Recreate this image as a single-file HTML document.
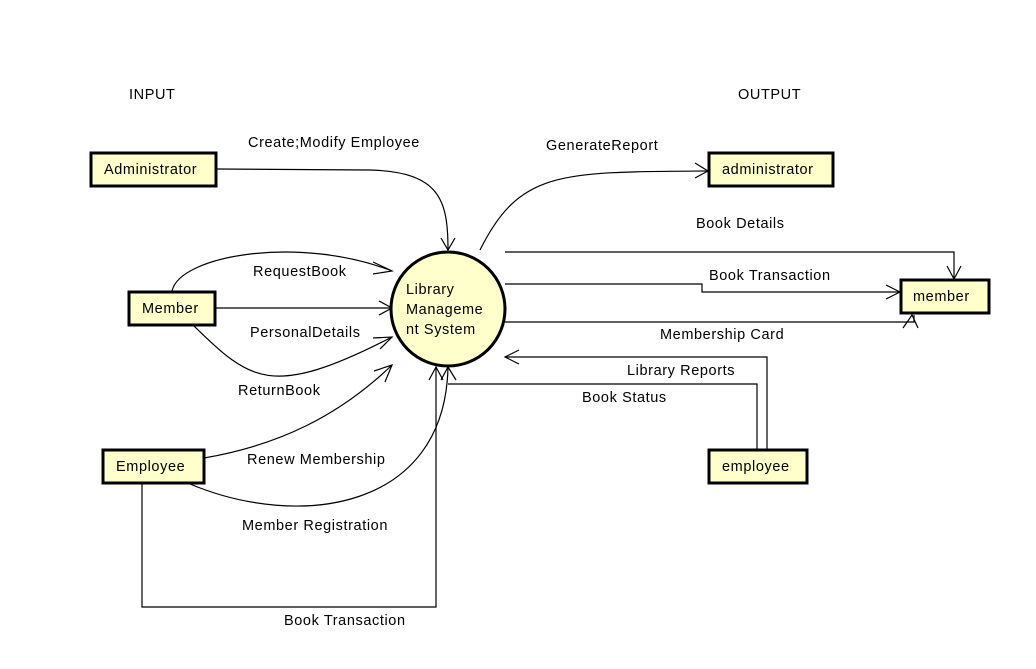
<!DOCTYPE html>
<html><head><meta charset="utf-8"><style>
html,body{margin:0;padding:0;background:#fff;}
svg{display:block;}
text{font-family:"Liberation Sans",sans-serif;font-size:14.5px;letter-spacing:0.6px;fill:#000;}
</style></head><body>
<svg width="1036" height="669" viewBox="0 0 1036 669" xmlns="http://www.w3.org/2000/svg">
<g fill="none" stroke="#000" stroke-width="1.2">
<path d="M217,169 L370,170 C440,172 448,200 448,250"/>
<path d="M441,238 L448,250 L455,238"/>
<path d="M172,291 C180,255 300,235 392,271"/>
<path d="M373,262 L392,271 L373,274"/>
<path d="M216,308 L392,308"/>
<path d="M379,301 L392,308 L379,315"/>
<path d="M194,326 C250,380 270,400 392,337"/>
<path d="M373,338 L392,337 L380,349"/>
<path d="M204,458 C280,445 340,415 392,365"/>
<path d="M374,371 L392,365 L385,382"/>
<path d="M190,484 C300,530 445,510 448,367"/>
<path d="M441,380 L448,367 L456,380"/>
<path d="M142,484 L142,607 L436,607 L436,367"/>
<path d="M429,380 L436,367 L443,380"/>
<path d="M480,250 C520,170 560,172 708,171"/>
<path d="M695,163 L708,171 L695,178"/>
<path d="M505,252 L954,252 L954,279"/>
<path d="M947,266 L954,279 L961,266"/>
<path d="M505,284 L702,284 L702,292 L900,292"/>
<path d="M886,285 L900,292 L886,299"/>
<path d="M505,322 L914,322 L914,315"/>
<path d="M903,328 L912,315 L918,328"/>
<path d="M767,449 L767,357 L505,357"/>
<path d="M519,350 L505,357 L519,364"/>
<path d="M757,449 L757,384 L448,384"/>
</g>
<circle cx="448" cy="309" r="57" fill="#ffffcc" stroke="#000" stroke-width="3"/>
<text x="406" y="294">Library</text>
<text x="406" y="314">Manageme</text>
<text x="406" y="334">nt System</text>
<g fill="#ffffcc" stroke="#000" stroke-width="3">
<rect x="91" y="153" width="125" height="33"/>
<rect x="129" y="292" width="86" height="33"/>
<rect x="103" y="450" width="101" height="33"/>
<rect x="709" y="153" width="124" height="33"/>
<rect x="901" y="280" width="88" height="33"/>
<rect x="709" y="450" width="98" height="33"/>
</g>
<text x="104" y="174">Administrator</text>
<text x="142" y="313">Member</text>
<text x="116" y="471">Employee</text>
<text x="722" y="174">administrator</text>
<text x="913" y="301">member</text>
<text x="722" y="471">employee</text>
<text x="129" y="99">INPUT</text>
<text x="738" y="99">OUTPUT</text>
<text x="248" y="147">Create;Modify Employee</text>
<text x="546" y="150">GenerateReport</text>
<text x="696" y="228">Book Details</text>
<text x="709" y="280">Book Transaction</text>
<text x="660" y="339">Membership Card</text>
<text x="627" y="375">Library Reports</text>
<text x="582" y="402">Book Status</text>
<text x="253" y="276">RequestBook</text>
<text x="250" y="337">PersonalDetails</text>
<text x="238" y="395">ReturnBook</text>
<text x="247" y="464">Renew Membership</text>
<text x="242" y="530">Member Registration</text>
<text x="284" y="625">Book Transaction</text>
</svg>
</body></html>
